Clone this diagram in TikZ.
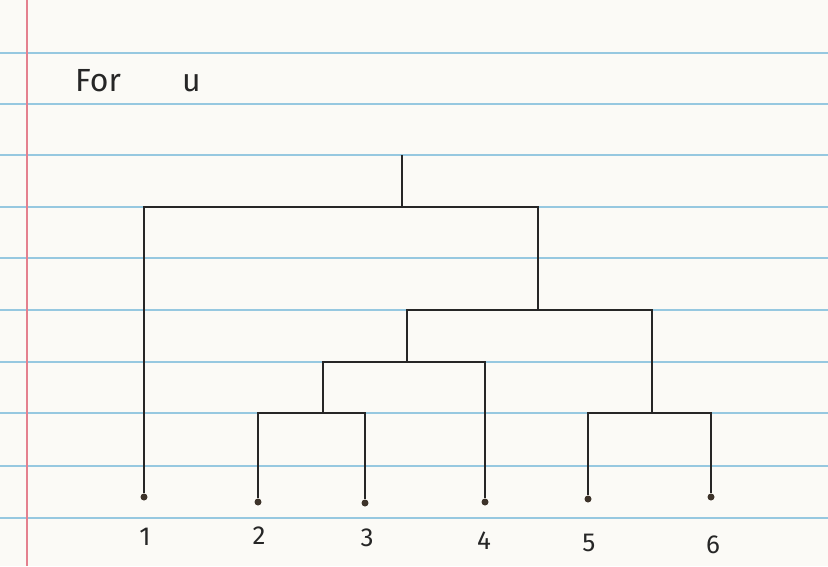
\documentclass[tikz,border=0pt]{standalone}
\usepackage{fontspec}
\setmainfont{Fira Sans}
\usetikzlibrary{positioning}
\definecolor{paper}{RGB}{251,250,246}
\definecolor{rulecol}{RGB}{150,200,224}
\definecolor{margincol}{RGB}{228,128,142}
\definecolor{pen}{RGB}{38,38,38}

\begin{document}
\begin{tikzpicture}[x=1pt, y=-1pt,
  every node/.style={font=\fontsize{26}{30}\selectfont, text=pen},
  leaf/.style={circle, fill=pen!85!brown, inner sep=0pt, minimum size=7pt},
  num/.style={inner sep=0pt},
  note/.style={font=\fontsize{32}{36}\selectfont, inner sep=0pt},
  link/.style={draw=pen, line width=2pt},
  ruling/.style={draw=rulecol, line width=1.8pt},
  marginline/.style={draw=margincol, line width=1.4pt}]

% notebook paper
\fill[paper] (0,0) rectangle (828,566);
\useasboundingbox (0,0) rectangle (828,566);
\foreach \y in {53,104,155,207,258,310,362,413,466,518}
  \draw[ruling] (0,\y) -- (828,\y);
\draw[marginline] (27,0) -- (27,566);

\node[note, anchor=base west] (title) at (75,91) {For};
\node[note, anchor=base west] (var) at (182,91) {u};

% leaves
\node[leaf] (l1) at (144,497) {};
\node[leaf] (l2) at (258,502) {};
\node[leaf] (l3) at (365,503) {};
\node[leaf] (l4) at (485,502) {};
\node[leaf] (l5) at (588,499) {};
\node[leaf] (l6) at (711,497) {};
\node[num] (n1) at (145,537) {1};
\node[num] (n2) at (259,536) {2};
\node[num] (n3) at (367,538) {3};
\node[num] (n4) at (484,541) {4};
\node[num] (n5) at (589,543) {5};
\node[num] (n6) at (713,545) {6};

% merges
\coordinate (m23) at (323,413);
\coordinate (m56) at (652,413);
\coordinate (m234) at (407,362);
\coordinate (m23456) at (538,310);
\coordinate (root) at (402,207);
\coordinate (top) at (402,155);

\draw[link] (l2) |- (m23) -| (l3);
\draw[link] (l5) |- (m56) -| (l6);
\draw[link] (m23) |- (m234) -| (l4);
\draw[link] (m234) |- (m23456) -| (m56);
\draw[link] (l1) |- (root) -| (m23456);
\draw[link] (root) -- (top);
\end{tikzpicture}
\end{document}
